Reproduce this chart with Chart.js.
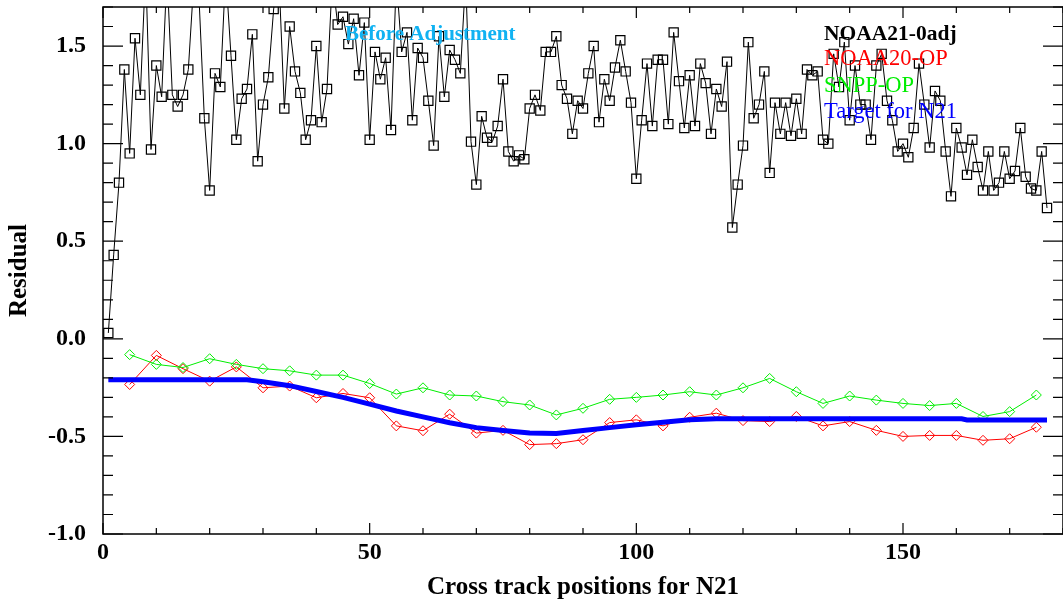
<!DOCTYPE html>
<html>
<head>
<meta charset="utf-8">
<script src="https://cdn.jsdelivr.net/npm/chart.js@4"></script>
<style>
  html, body { margin: 0; padding: 0; background: #fff; }
  #wrap { width: 1063px; height: 604px; }
</style>
</head>
<body>
<div id="wrap"><canvas id="residualChart" width="1063" height="604"></canvas></div>
<script>
// NOAA21 residuals before adjustment, one value per cross track position (1..177)
const noaa21Adj = [
  0.03, 0.43, 0.80, 1.38, 0.95, 1.54, 1.25, 1.90, 0.97, 1.40,
  1.24, 1.88, 1.25, 1.19, 1.25, 1.38, 1.82, 1.75, 1.13, 0.76,
  1.36, 1.29, 1.88, 1.45, 1.02, 1.23, 1.28, 1.56, 0.91, 1.20,
  1.34, 1.69, 1.85, 1.18, 1.60, 1.37, 1.26, 1.02, 1.12, 1.50,
  1.11, 1.28, 1.85, 1.61, 1.65, 1.51, 1.64, 1.35, 1.62, 1.02,
  1.47, 1.33, 1.44, 1.07, 1.85, 1.47, 1.57, 1.12, 1.49, 1.44,
  1.22, 0.99, 1.55, 1.24, 1.48, 1.43, 1.36, 1.85, 1.01, 0.79,
  1.14, 1.03, 1.01, 1.09, 1.33, 0.96, 0.91, 0.94, 0.92, 1.18,
  1.25, 1.17, 1.47, 1.47, 1.55, 1.30, 1.23, 1.05, 1.22, 1.18,
  1.36, 1.50, 1.11, 1.33, 1.22, 1.39, 1.53, 1.37, 1.21, 0.82,
  1.12, 1.41, 1.09, 1.43, 1.43, 1.10, 1.57, 1.32, 1.08, 1.35,
  1.09, 1.41, 1.31, 1.05, 1.28, 1.19, 1.42, 0.57, 0.79, 0.99,
  1.52, 1.13, 1.20, 1.37, 0.85, 1.21, 1.05, 1.21, 1.04, 1.23,
  1.05, 1.38, 1.35, 1.37, 1.02, 1.00, 1.46, 1.29, 1.52, 1.12,
  1.40, 1.20, 1.20, 1.02, 1.40, 1.46, 1.22, 1.12, 0.96, 1.00,
  0.93, 1.08, 1.41, 1.20, 0.98, 1.27, 1.22, 0.96, 0.73, 1.08,
  0.98, 0.84, 1.02, 0.88, 0.76, 0.96, 0.76, 0.80, 0.96, 0.82,
  0.86, 1.08, 0.83, 0.77, 0.76, 0.96, 0.67
];

// operational satellites, sampled every 5 positions
const opPositions = [
  5, 10, 15, 20, 25, 30, 35, 40, 45, 50, 55, 60, 65, 70, 75, 80, 85, 90,
  95, 100, 105, 110, 115, 120, 125, 130, 135, 140, 145, 150, 155, 160, 165, 170, 175
];
const noaa20Op = [
  -0.234, -0.085, -0.153, -0.217, -0.144, -0.251, -0.242, -0.302, -0.280, -0.302,
  -0.446, -0.471, -0.386, -0.483, -0.469, -0.542, -0.537, -0.517, -0.429, -0.415,
  -0.446, -0.402, -0.381, -0.419, -0.424, -0.398, -0.446, -0.424, -0.469, -0.500,
  -0.495, -0.495, -0.520, -0.512, -0.453
];
const snppOp = [
  -0.081, -0.131, -0.147, -0.102, -0.131, -0.153, -0.164, -0.186, -0.186, -0.229,
  -0.283, -0.251, -0.288, -0.293, -0.322, -0.339, -0.390, -0.356, -0.310, -0.300,
  -0.288, -0.271, -0.288, -0.251, -0.203, -0.271, -0.331, -0.293, -0.314, -0.331,
  -0.342, -0.331, -0.398, -0.373, -0.288
];

// target curve for N21
const targetPositions = [1, 27, 30, 35, 40, 45, 50, 55, 60, 65, 70, 75, 80, 85, 90, 95, 100, 105, 110, 115, 161, 162, 177];
const targetN21 = [
  -0.21, -0.21, -0.22, -0.24, -0.27, -0.30, -0.335, -0.37, -0.40, -0.43, -0.455, -0.47,
  -0.483, -0.485, -0.47, -0.455, -0.44, -0.427, -0.415, -0.41, -0.41, -0.416, -0.416
];

const SERIF = "'Liberation Serif', 'Times New Roman', serif";

function isMajorY(v) {
  return Math.abs(v * 2 - Math.round(v * 2)) < 1e-6;
}

// IDL-style box with inward ticks, legend text and annotation
const plotFrame = {
  id: 'plotFrame',
  afterDatasetsDraw(chart) {
    const { ctx, chartArea: a, scales } = chart;
    const x = scales.x, y = scales.y;
    ctx.save();
    ctx.strokeStyle = '#000';
    ctx.lineWidth = 1.5;
    ctx.strokeRect(a.left, a.top, a.right - a.left, a.bottom - a.top);

    ctx.lineWidth = 1.2;
    ctx.beginPath();
    y.ticks.forEach(t => {
      const py = y.getPixelForValue(t.value);
      const len = isMajorY(t.value) ? 20 : 10;
      ctx.moveTo(a.left, py); ctx.lineTo(a.left + len, py);
      ctx.moveTo(a.right, py); ctx.lineTo(a.right - len, py);
    });
    x.ticks.forEach(t => {
      const px = x.getPixelForValue(t.value);
      const len = t.value % 50 === 0 ? 11 : 6;
      ctx.moveTo(px, a.bottom); ctx.lineTo(px, a.bottom - len);
      ctx.moveTo(px, a.top); ctx.lineTo(px, a.top + len);
    });
    ctx.stroke();

    ctx.textBaseline = 'alphabetic';
    ctx.textAlign = 'left';
    ctx.fillStyle = '#10b2f2';
    ctx.font = 'bold 21px ' + SERIF;
    ctx.fillText('Before Adjustment', 345, 40);

    const baselines = [40, 65, 92, 118];
    chart.data.datasets.forEach((ds, i) => {
      ctx.fillStyle = ds.textColor;
      ctx.font = (i === 0 ? 'bold 21.5px ' : '22.5px ') + SERIF;
      ctx.fillText(ds.label, 824, baselines[i]);
    });
    ctx.restore();
  }
};

const chart = new Chart(document.getElementById('residualChart'), {
  type: 'line',
  data: {
    datasets: [
      {
        label: 'NOAA21-0adj',
        textColor: '#000000',
        data: noaa21Adj.map((v, i) => ({ x: i + 1, y: v })),
        borderColor: '#000000',
        borderWidth: 1,
        pointStyle: 'rect',
        pointRadius: 6.5,
        pointBorderWidth: 1.2,
        pointBorderColor: '#000000',
        pointBackgroundColor: 'rgba(0,0,0,0)',
        order: 4
      },
      {
        label: 'NOAA20-OP',
        textColor: '#ff0000',
        data: opPositions.map((p, i) => ({ x: p, y: noaa20Op[i] })),
        borderColor: '#ff0000',
        borderWidth: 1,
        pointStyle: 'rectRot',
        pointRadius: 5,
        pointBorderWidth: 1,
        pointBorderColor: '#ff0000',
        pointBackgroundColor: 'rgba(0,0,0,0)',
        order: 3
      },
      {
        label: 'SNPP-OP',
        textColor: '#00ee00',
        data: opPositions.map((p, i) => ({ x: p, y: snppOp[i] })),
        borderColor: '#00ee00',
        borderWidth: 1,
        pointStyle: 'rectRot',
        pointRadius: 5,
        pointBorderWidth: 1,
        pointBorderColor: '#00ee00',
        pointBackgroundColor: 'rgba(0,0,0,0)',
        order: 2
      },
      {
        label: 'Target for N21',
        textColor: '#0000ff',
        data: targetPositions.map((p, i) => ({ x: p, y: targetN21[i] })),
        borderColor: '#0000ff',
        borderWidth: 5,
        pointRadius: 0,
        order: 1
      }
    ]
  },
  options: {
    responsive: false,
    animation: false,
    devicePixelRatio: 1,
    layout: { autoPadding: false, padding: { top: 7, right: 0, left: 0, bottom: 0 } },
    plugins: {
      legend: { display: false },
      tooltip: { enabled: false }
    },
    elements: { line: { tension: 0 } },
    scales: {
      x: {
        type: 'linear',
        min: 0,
        max: 180,
        grid: { display: false },
        border: { display: false },
        ticks: {
          stepSize: 10,
          autoSkip: false,
          maxRotation: 0,
          padding: -4,
          color: '#000',
          font: { family: SERIF, size: 24, weight: 'bold' },
          callback: v => (v % 50 === 0 ? String(v) : '')
        },
        title: {
          display: true,
          text: 'Cross track positions for N21',
          color: '#000',
          padding: { top: 0, bottom: 1 },
          font: { family: SERIF, size: 25, weight: 'bold' }
        },
        afterFit: s => {
          s.height = 70;
          s.paddingLeft = 0;
          s.paddingRight = 0;
        }
      },
      y: {
        min: -1.0,
        max: 1.7,
        grid: { display: false },
        border: { display: false },
        ticks: {
          stepSize: 0.1,
          autoSkip: false,
          padding: 9,
          color: '#000',
          font: { family: SERIF, size: 24, weight: 'bold' },
          callback: v => (isMajorY(v) ? v.toFixed(1) : '')
        },
        title: {
          display: true,
          text: 'Residual',
          color: '#000',
          padding: { top: 5, bottom: 0 },
          font: { family: SERIF, size: 25, weight: 'bold' }
        },
        afterFit: s => {
          s.width = 103;
          s.paddingTop = 0;
          s.paddingBottom = 0;
        }
      }
    }
  },
  plugins: [plotFrame]
});
</script>
</body>
</html>
